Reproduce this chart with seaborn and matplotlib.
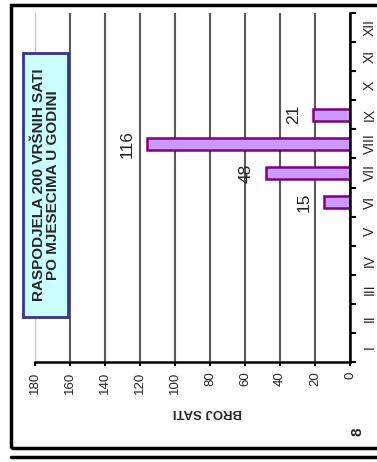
import matplotlib
matplotlib.use("Agg")
import matplotlib.pyplot as plt
from matplotlib.patches import Rectangle
from matplotlib.lines import Line2D
import numpy as np
import pandas as pd
import seaborn as sns

MONTHS = ["I", "II", "III", "IV", "V", "VI", "VII", "VIII", "IX", "X", "XI", "XII"]
HOURS = [np.nan, np.nan, np.nan, np.nan, np.nan, 15, 48, 116, 21, np.nan, np.nan, np.nan]
VALUE_TICKS = [0, 20, 40, 60, 80, 100, 120, 140, 160, 180]
TITLE = "RASPODJELA 200 VRŠNIH SATI\nPO MJESECIMA U GODINI"
AXIS_LABEL = "BROJ SATI"
PAGE = "8"

W, H = 377, 462

sns.set_style("white")
plt.rcParams["font.family"] = ["Liberation Sans", "DejaVu Sans"]

fig = plt.figure(figsize=(W / 100, H / 100), dpi=100)
ax = fig.add_axes([35 / W, 1 - 362 / H, (350 - 35) / W, (362 - 13) / H])

df = pd.DataFrame({"mjesec": MONTHS, "sati": HOURS}).dropna()
sns.barplot(
    data=df,
    x="sati",
    y="mjesec",
    order=MONTHS[::-1],
    orient="h",
    color="#CC99FF",
    saturation=1,
    edgecolor="#800080",
    linewidth=1.8,
    width=0.42,
    errorbar=None,
    ax=ax,
)

ax.set_xlim(180, 0)
ax.set_ylim(11.5, -0.5)
ax.set_xticks(VALUE_TICKS)
ax.set_xticklabels([str(v) for v in VALUE_TICKS], rotation=90, fontsize=9.5)
ax.set_xlabel("")
ax.set_ylabel("")

ax.yaxis.tick_right()
ax.set_yticks(range(12))
ax.set_yticklabels(MONTHS[::-1], rotation=90, va="center", fontsize=10)
ax.set_yticks(np.arange(-0.5, 12, 1), minor=True)
ax.tick_params(axis="y", which="major", length=0, pad=9)
ax.tick_params(axis="y", which="minor", length=4, width=1.5, color="black", direction="out", right=True, left=False)
ax.tick_params(axis="x", which="major", length=3, width=1.5, color="black", direction="out", bottom=True, pad=4)

ax.grid(axis="x", color="#5a5a5a", linewidth=1.5)
ax.grid(axis="y", visible=False)
grid = ax.xaxis.get_gridlines()
grid[-1].set_color("#c8c8c8")
grid[-1].set_linewidth(1.0)
ax.set_axisbelow(True)

for side in ["left", "top"]:
    ax.spines[side].set_visible(False)
for side in ["right", "bottom"]:
    ax.spines[side].set_color("black")
    ax.spines[side].set_linewidth(1.8)

ax.bar_label(ax.containers[0], fmt="%.0f", rotation=90, padding=9, fontsize=12.5)

# title box
fig.add_artist(Rectangle((23 / W, 1 - 317 / H), 45 / W, 264 / H, transform=fig.transFigure,
                         facecolor="#CCFFFF", edgecolor="#333399", linewidth=2))
fig.text(46 / W, 1 - 185 / H, TITLE, rotation=90, ha="center", va="center",
         multialignment="center", fontsize=11, fontweight="bold", linespacing=1.0)

fig.text(207 / W, 1 - 412 / H, AXIS_LABEL, rotation=180, ha="center", va="center",
         fontsize=9.5, fontweight="bold")
fig.text(357 / W, 1 - 432 / H, PAGE, rotation=90, ha="center", va="center",
         fontsize=11, fontweight="bold")

# page frame
fig.add_artist(Rectangle((11 / W, 1 - 448 / H), 1.2, 443 / H, transform=fig.transFigure,
                         facecolor="none", edgecolor="black", linewidth=2.5))
fig.add_artist(Line2D([11 / W, 1.2], [1 - 457 / H, 1 - 457 / H], transform=fig.transFigure,
                      color="black", linewidth=2.5))

fig.savefig("out.png", dpi=100)
